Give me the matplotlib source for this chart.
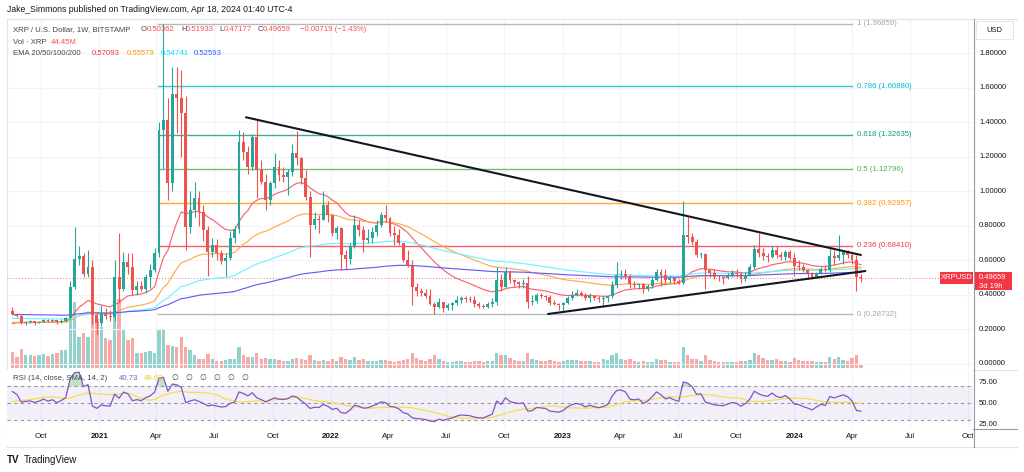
import numpy as np
import pandas as pd
import matplotlib
matplotlib.use("Agg")
import matplotlib.pyplot as plt
import matplotlib.dates as mdates
from matplotlib.patches import Rectangle
from matplotlib.lines import Line2D
from matplotlib.transforms import blended_transform_factory

plt.rcParams['font.family'] = ['Liberation Sans', 'DejaVu Sans']

W, H = 1024, 472

# XRP / U.S. Dollar, 1W, BITSTAMP -- first visible candle is the week of 2020-08-17
first_week = "2020-08-17"

# weekly closes before the visible range (2019-01-07 .. 2020-08-10), only used
# to warm up the EMA / RSI indicators the way the chart's full history does
warmup_closes = [
    0.32, 0.32, 0.31, 0.30, 0.30, 0.30, 0.32, 0.31, 0.31, 0.31, 0.31, 0.31, 0.36,
    0.33, 0.32, 0.30, 0.30, 0.32, 0.42, 0.40, 0.42, 0.40, 0.43, 0.45, 0.40, 0.36,
    0.33, 0.32, 0.31, 0.32, 0.30, 0.27, 0.26, 0.26, 0.26, 0.27, 0.29, 0.24, 0.25,
    0.28, 0.29, 0.29, 0.30, 0.28, 0.27, 0.25, 0.22, 0.22, 0.22, 0.19, 0.19, 0.19,
    0.21, 0.24, 0.22, 0.24, 0.27, 0.30, 0.27, 0.23, 0.23, 0.15, 0.15, 0.17, 0.17,
    0.18, 0.19, 0.19, 0.22, 0.21, 0.20, 0.20, 0.20, 0.20, 0.19, 0.18, 0.18, 0.18,
    0.20, 0.20, 0.22, 0.30, 0.29, 0.307,
]

opens = [
    0.307, 0.288, 0.276, 0.238, 0.243, 0.245, 0.238, 0.244,
    0.254, 0.246, 0.252, 0.240, 0.250, 0.262, 0.446, 0.605,
    0.625, 0.518, 0.560, 0.280, 0.235, 0.290, 0.275, 0.270,
    0.500, 0.430, 0.590, 0.560, 0.425, 0.450, 0.430, 0.500,
    0.540, 0.640, 1.354, 1.410, 1.045, 1.562, 1.538, 1.451,
    0.794, 0.890, 0.960, 0.880, 0.776, 0.650, 0.690, 0.640,
    0.595, 0.612, 0.730, 0.780, 1.286, 1.228, 1.142, 1.315,
    1.122, 1.054, 0.948, 1.045, 1.138, 1.093, 1.080, 1.110,
    1.219, 1.190, 1.074, 0.968, 0.805, 0.840, 0.835, 0.920,
    0.860, 0.755, 0.784, 0.630, 0.605, 0.681, 0.804, 0.775,
    0.717, 0.726, 0.765, 0.804, 0.862, 0.842, 0.755, 0.745,
    0.697, 0.600, 0.566, 0.446, 0.423, 0.410, 0.390, 0.344,
    0.327, 0.356, 0.322, 0.338, 0.350, 0.370, 0.382, 0.376,
    0.368, 0.345, 0.332, 0.330, 0.345, 0.358, 0.485, 0.446,
    0.533, 0.485, 0.472, 0.462, 0.470, 0.359, 0.365, 0.398,
    0.392, 0.385, 0.352, 0.345, 0.338, 0.352, 0.382, 0.400,
    0.410, 0.400, 0.380, 0.392, 0.380, 0.372, 0.380, 0.392,
    0.456, 0.514, 0.520, 0.508, 0.460, 0.455, 0.462, 0.430,
    0.448, 0.485, 0.533, 0.514, 0.485, 0.495, 0.480, 0.470,
    0.746, 0.735, 0.705, 0.630, 0.636, 0.540, 0.525, 0.505,
    0.500, 0.494, 0.510, 0.527, 0.520, 0.490, 0.514, 0.560,
    0.665, 0.640, 0.625, 0.618, 0.660, 0.630, 0.620, 0.645,
    0.615, 0.565, 0.560, 0.540, 0.525, 0.505, 0.528, 0.550,
    0.540, 0.625, 0.612, 0.630, 0.645, 0.632, 0.600, 0.50362,
]
highs = [
    0.330, 0.295, 0.285, 0.250, 0.252, 0.248, 0.248, 0.258,
    0.260, 0.260, 0.256, 0.258, 0.268, 0.480, 0.790, 0.680,
    0.640, 0.660, 0.600, 0.300, 0.340, 0.320, 0.310, 0.600,
    0.760, 0.650, 0.640, 0.640, 0.480, 0.480, 0.520, 0.580,
    0.670, 1.400, 1.96859, 1.540, 1.720, 1.720, 1.700, 1.550,
    1.000, 1.050, 1.000, 0.920, 0.800, 0.730, 0.720, 0.660,
    0.640, 0.770, 0.800, 1.354, 1.340, 1.260, 1.330, 1.410,
    1.180, 1.100, 1.060, 1.220, 1.180, 1.140, 1.130, 1.270,
    1.350, 1.200, 1.120, 1.000, 0.880, 0.860, 1.000, 0.940,
    0.870, 0.800, 0.790, 0.660, 0.700, 0.860, 0.830, 0.800,
    0.780, 0.790, 0.830, 0.880, 0.920, 0.850, 0.800, 0.780,
    0.700, 0.660, 0.600, 0.470, 0.440, 0.430, 0.430, 0.360,
    0.380, 0.360, 0.350, 0.360, 0.390, 0.395, 0.390, 0.390,
    0.390, 0.355, 0.345, 0.360, 0.380, 0.560, 0.520, 0.560,
    0.540, 0.490, 0.480, 0.490, 0.510, 0.400, 0.410, 0.410,
    0.400, 0.400, 0.370, 0.350, 0.360, 0.390, 0.420, 0.430,
    0.420, 0.410, 0.410, 0.400, 0.390, 0.390, 0.400, 0.480,
    0.590, 0.540, 0.550, 0.520, 0.480, 0.470, 0.470, 0.460,
    0.500, 0.550, 0.550, 0.550, 0.510, 0.500, 0.490, 0.940,
    0.850, 0.760, 0.720, 0.650, 0.640, 0.550, 0.550, 0.515,
    0.510, 0.525, 0.540, 0.550, 0.530, 0.530, 0.580, 0.690,
    0.755, 0.670, 0.640, 0.680, 0.680, 0.650, 0.660, 0.660,
    0.640, 0.600, 0.580, 0.550, 0.530, 0.530, 0.560, 0.570,
    0.670, 0.660, 0.746, 0.660, 0.660, 0.640, 0.630, 0.51933,
]
lows = [
    0.282, 0.270, 0.228, 0.226, 0.238, 0.226, 0.234, 0.240,
    0.242, 0.240, 0.232, 0.234, 0.244, 0.258, 0.430, 0.570,
    0.500, 0.500, 0.230, 0.170, 0.220, 0.260, 0.250, 0.250,
    0.360, 0.420, 0.520, 0.400, 0.400, 0.420, 0.410, 0.440,
    0.530, 0.620, 1.130, 0.950, 1.000, 1.335, 1.200, 0.660,
    0.760, 0.850, 0.800, 0.710, 0.510, 0.620, 0.600, 0.580,
    0.510, 0.600, 0.700, 0.760, 1.180, 1.100, 1.120, 0.958,
    1.040, 0.890, 0.920, 1.020, 1.060, 1.050, 0.980, 1.090,
    1.150, 1.040, 0.950, 0.620, 0.780, 0.760, 0.830, 0.820,
    0.740, 0.720, 0.540, 0.550, 0.580, 0.670, 0.740, 0.650,
    0.700, 0.700, 0.740, 0.790, 0.820, 0.740, 0.690, 0.690,
    0.590, 0.560, 0.340, 0.390, 0.390, 0.380, 0.340, 0.28732,
    0.320, 0.300, 0.310, 0.310, 0.340, 0.350, 0.360, 0.355,
    0.330, 0.320, 0.320, 0.320, 0.330, 0.340, 0.420, 0.440,
    0.470, 0.450, 0.440, 0.440, 0.320, 0.340, 0.350, 0.380,
    0.370, 0.340, 0.340, 0.310, 0.300, 0.345, 0.370, 0.390,
    0.390, 0.370, 0.360, 0.370, 0.360, 0.330, 0.360, 0.380,
    0.440, 0.490, 0.490, 0.440, 0.440, 0.430, 0.410, 0.420,
    0.440, 0.480, 0.450, 0.470, 0.470, 0.460, 0.460, 0.460,
    0.700, 0.690, 0.620, 0.610, 0.430, 0.500, 0.490, 0.480,
    0.460, 0.490, 0.500, 0.500, 0.470, 0.480, 0.510, 0.550,
    0.620, 0.600, 0.590, 0.610, 0.610, 0.600, 0.600, 0.600,
    0.510, 0.540, 0.530, 0.490, 0.490, 0.495, 0.520, 0.530,
    0.530, 0.570, 0.600, 0.580, 0.610, 0.580, 0.420, 0.47177,
]
closes = [
    0.288, 0.276, 0.238, 0.243, 0.245, 0.238, 0.244, 0.254,
    0.246, 0.252, 0.240, 0.250, 0.262, 0.446, 0.605, 0.625,
    0.518, 0.560, 0.280, 0.235, 0.290, 0.275, 0.270, 0.500,
    0.430, 0.590, 0.560, 0.425, 0.450, 0.430, 0.500, 0.540,
    0.640, 1.354, 1.410, 1.045, 1.562, 1.538, 1.451, 0.794,
    0.890, 0.960, 0.880, 0.776, 0.650, 0.690, 0.640, 0.595,
    0.612, 0.730, 0.780, 1.286, 1.228, 1.142, 1.315, 1.122,
    1.054, 0.948, 1.045, 1.138, 1.093, 1.080, 1.110, 1.219,
    1.190, 1.074, 0.968, 0.805, 0.840, 0.835, 0.920, 0.860,
    0.755, 0.784, 0.630, 0.605, 0.681, 0.804, 0.775, 0.717,
    0.726, 0.765, 0.804, 0.862, 0.842, 0.755, 0.745, 0.697,
    0.600, 0.566, 0.446, 0.423, 0.410, 0.390, 0.344, 0.327,
    0.356, 0.322, 0.338, 0.350, 0.370, 0.382, 0.376, 0.368,
    0.345, 0.332, 0.330, 0.345, 0.358, 0.485, 0.446, 0.533,
    0.485, 0.472, 0.462, 0.470, 0.359, 0.365, 0.398, 0.392,
    0.385, 0.352, 0.345, 0.338, 0.352, 0.382, 0.400, 0.410,
    0.400, 0.380, 0.392, 0.380, 0.372, 0.380, 0.392, 0.456,
    0.514, 0.520, 0.508, 0.460, 0.455, 0.462, 0.430, 0.448,
    0.485, 0.533, 0.514, 0.485, 0.495, 0.480, 0.470, 0.746,
    0.735, 0.705, 0.630, 0.636, 0.540, 0.525, 0.505, 0.500,
    0.494, 0.510, 0.527, 0.520, 0.490, 0.514, 0.560, 0.665,
    0.640, 0.625, 0.618, 0.660, 0.630, 0.620, 0.645, 0.615,
    0.565, 0.560, 0.540, 0.525, 0.505, 0.528, 0.550, 0.540,
    0.625, 0.612, 0.630, 0.645, 0.632, 0.600, 0.50378, 0.49659,
]
# weekly volume, millions of XRP
vol_m = [
    225, 150, 270, 180, 180, 165, 180, 195,
    165, 195, 210, 255, 255, 720, 975, 450,
    510, 450, 930, 720, 600, 435, 405, 900,
    1020, 570, 405, 435, 210, 210, 225, 240,
    210, 570, 570, 330, 315, 300, 450, 300,
    255, 180, 120, 120, 195, 120, 90, 90,
    105, 120, 120, 300, 180, 150, 150, 210,
    120, 135, 120, 120, 105, 90, 90, 120,
    135, 120, 105, 180, 105, 90, 105, 90,
    120, 90, 150, 120, 105, 150, 105, 120,
    90, 90, 90, 105, 105, 90, 75, 90,
    105, 120, 210, 135, 105, 90, 120, 180,
    120, 90, 75, 75, 90, 90, 75, 75,
    90, 90, 75, 90, 90, 210, 180, 180,
    135, 105, 90, 90, 210, 120, 105, 90,
    90, 105, 90, 75, 90, 105, 105, 105,
    90, 90, 90, 75, 75, 120, 105, 180,
    210, 120, 105, 120, 90, 75, 90, 75,
    75, 120, 105, 105, 75, 75, 75, 300,
    180, 120, 120, 90, 180, 105, 90, 75,
    75, 75, 75, 75, 90, 90, 105, 210,
    180, 135, 105, 105, 120, 90, 90, 75,
    135, 105, 90, 90, 90, 75, 75, 75,
    150, 120, 150, 105, 90, 135, 180, 44.45,
]

ema_periods = [20, 50, 100, 200]
ema_line_colors = ['#f6646f', '#ffaa4d', '#6ff4ff', '#6c5df2']
ema_legend_values = ['0.57093', '0.55579', '0.54741', '0.52593']
ema_legend_colors = ['#f23645', '#ff9800', '#00e5ff', '#2962ff']

fib_ratios = ['0', '0.236', '0.382', '0.5', '0.618', '0.786', '1']
fib_prices = [0.28732, 0.68410, 0.92957, 1.12796, 1.32635, 1.60880, 1.96859]
fib_colors = ['#a3a6af', '#f23645', '#ff9800', '#4caf50', '#089981', '#00bcd4', '#a3a6af']
fib_span = ['2021-04-04', '2024-04-01']

upper_trend = (['2021-08-20', '2024-04-15'], [1.4276, 0.630])
lower_trend = (['2022-12-09', '2024-04-22'], [0.288, 0.537])

rsi_legend_values = ['40.73', '49.62']
price_ticks = [0.0, 0.2, 0.4, 0.6, 0.8, 1.0, 1.2, 1.4, 1.6, 1.8]
rsi_ticks = [75, 50, 25]

UP, DOWN = '#26a69a', '#ef5350'
TXT = '#131722'

# ---------- derived series ----------
dates = pd.date_range(first_week, periods=len(closes), freq='7D')
x = mdates.date2num(dates)
o, h, l, c = map(np.array, (opens, highs, lows, closes))
up = c >= o
n_vis = len(closes)

full_close = pd.Series(warmup_closes + closes)
emas = [full_close.ewm(span=n, adjust=False).mean().iloc[-n_vis:].values for n in ema_periods]

delta = full_close.diff()
gain = delta.clip(lower=0)
loss = -delta.clip(upper=0)
rs = gain.ewm(alpha=1 / 14, adjust=False).mean() / loss.ewm(alpha=1 / 14, adjust=False).mean()
rsi_full = 100 - 100 / (1 + rs)
rsi = rsi_full.iloc[-n_vis:].values
rsi_sma = rsi_full.rolling(14).mean().iloc[-n_vis:].values

# ---------- layout (pixel positions of the TradingView panes) ----------
def fx(px):
    return px / W

def fy(px):
    return 1 - px / H

anchor = mdates.date2num(pd.Timestamp('2020-10-01'))
px_per_day = 0.6346
xlim = (anchor + (7 - 41) / px_per_day, anchor + (973 - 41) / px_per_day)

fig = plt.figure(figsize=(W / 100, H / 100), dpi=100)
fig.patch.set_facecolor('white')

rect_main = [fx(7), fy(369), fx(966), 350 / H]
axv = fig.add_axes(rect_main, zorder=1)
ax = fig.add_axes(rect_main, zorder=2)
rax = fig.add_axes([fx(7), fy(428), fx(966), 58 / H], zorder=2)
tax = fig.add_axes([fx(7), fy(446), fx(966), 18 / H], zorder=2)

for a in (axv, ax, rax, tax):
    a.set_xlim(*xlim)
    a.set_xticks([])
    a.set_yticks([])
    for s in a.spines.values():
        s.set_visible(False)
ax.patch.set_alpha(0)
ax.set_ylim(-0.0307, 1.997)
rax.set_ylim(20.24, 89.29)
tax.set_ylim(0, 1)

quarters = pd.date_range('2020-10-01', '2024-10-01', freq='QS')
qx = mdates.date2num(quarters)

# grid
for q in qx:
    axv.axvline(q, color='#f0f3fa', lw=0.8, zorder=0)
    rax.axvline(q, color='#f0f3fa', lw=0.8, zorder=0)
for p in price_ticks:
    ax.axhline(p, color='#f0f3fa', lw=0.8, zorder=0)

# volume
vmax = max(vol_m)
axv.set_ylim(-vmax * 1.5 / 69, vmax * 350 / 69)
vcol = np.where(up, '#92d2cc', '#f7a9a7')
axv.bar(x, vol_m, width=5.3, color=vcol, linewidth=0, zorder=2)

# fib retracement
f0, f1 = mdates.date2num(pd.to_datetime(fib_span))
for r, p, col in zip(fib_ratios, fib_prices, fib_colors):
    ax.plot([f0, f1], [p, p], color=col, lw=1.0, alpha=0.8, zorder=1)
    ax.text(f1 + 8, p, f"{r} ({p:.5f})", color=col, fontsize=5.6, va='center', ha='left', zorder=5)

# current price dotted line
ax.axhline(closes[-1], color='#f23645', lw=0.7, ls=(0, (1, 2)), alpha=0.7, zorder=1)

# EMAs
for e, col in zip(emas, ema_line_colors):
    ax.plot(x, e, color=col, lw=0.85, zorder=2)

# candles
col = np.where(up, UP, DOWN)
ax.vlines(x, l, h, colors=col, lw=0.8, zorder=3)
body = np.maximum(np.abs(c - o), 0.003)
ax.bar(x, body, bottom=np.minimum(o, c), width=4.6, color=col, linewidth=0, zorder=4)

# trendlines
for dts, ps in (upper_trend, lower_trend):
    ax.plot(mdates.date2num(pd.to_datetime(dts)), ps, color=TXT, lw=1.5, zorder=6,
            solid_capstyle='round')

# RSI pane
rax.axhspan(30, 70, color='#7e57c2', alpha=0.09, lw=0, zorder=0)
for lvl in (70, 50, 30):
    rax.axhline(lvl, color='#9598a1', lw=0.8, ls=(0, (3, 3)), zorder=1)
rax.fill_between(x, 70, rsi, where=rsi > 70, color='#4caf50', alpha=0.35, lw=0, interpolate=True, zorder=2)
rax.fill_between(x, 30, rsi, where=rsi < 30, color='#f23645', alpha=0.35, lw=0, interpolate=True, zorder=2)
rax.plot(x, rsi_sma, color='#f5e04a', lw=0.9, zorder=3)
rax.plot(x, rsi, color='#7e57c2', lw=0.9, zorder=4)

# time axis
for q, d in zip(qx, quarters):
    if d.month == 1:
        tax.text(q, 0.5, str(d.year), fontsize=5.8, fontweight='bold', color=TXT,
                 ha='center', va='center', clip_on=True)
    else:
        tax.text(q, 0.5, d.strftime('%b'), fontsize=5.8, color=TXT,
                 ha='center', va='center', clip_on=True)

# price scale
tr_main = blended_transform_factory(fig.transFigure, ax.transData)
for p in price_ticks:
    fig.text(fx(979), p, f"{p:.5f}", transform=tr_main, fontsize=5.5, color=TXT, va='center')
tr_rsi = blended_transform_factory(fig.transFigure, rax.transData)
for t in rsi_ticks:
    fig.text(fx(979), t, f"{t:.2f}", transform=tr_rsi, fontsize=5.5, color=TXT, va='center')

fig.add_artist(Rectangle((fx(976), fy(39)), fx(37), 18 / H, transform=fig.transFigure,
                         facecolor='white', edgecolor='#e0e3eb', lw=0.6))
fig.text(fx(994), fy(30), 'USD', fontsize=5.5, color=TXT, ha='center', va='center')

# last price labels
py = ax.transData.transform((0, closes[-1]))[1] / fig.bbox.height
fig.add_artist(Rectangle((fx(975), py - 12.5 / H), fx(37), 18 / H, transform=fig.transFigure,
                         facecolor='#f23645', edgecolor='none', zorder=10))
fig.text(fx(979), py, f"{closes[-1]:.5f}", fontsize=5.5, color='white', va='center', zorder=11)
fig.text(fx(979), py - 9 / H, '3d 19h', fontsize=5.5, color='white', va='center', zorder=11)
fig.add_artist(Rectangle((fx(940), py - 6 / H), fx(33), 12 / H, transform=fig.transFigure,
                         facecolor='#f23645', edgecolor='none', zorder=10))
fig.text(fx(956.5), py, 'XRPUSD', fontsize=5.5, color='white', va='center', ha='center', zorder=11)

# frame lines
def hline(ypx, x0, x1, color, lw=0.8):
    fig.add_artist(Line2D([fx(x0), fx(x1)], [fy(ypx), fy(ypx)], transform=fig.transFigure, color=color, lw=lw))

hline(18.5, 7, 1017, '#e0e3eb')
hline(369.5, 7, 1017, '#e0e3eb')
hline(428.5, 7, 1017, '#9598a1')
hline(446.5, 7, 1017, '#e0e3eb')
fig.add_artist(Line2D([fx(973.5), fx(973.5)], [fy(18.5), fy(446.5)], transform=fig.transFigure,
                      color='#9598a1', lw=0.8))
fig.add_artist(Line2D([fx(7), fx(7)], [fy(18.5), fy(446.5)], transform=fig.transFigure,
                      color='#e0e3eb', lw=0.8))

# header / legends
fig.text(fx(7), fy(10), 'Jake_Simmons published on TradingView.com, Apr 18, 2024 01:40 UTC-4',
         fontsize=6.2, color=TXT, va='center')

def legend_row(ypx, parts):
    for xpx, s, colr in parts:
        fig.text(fx(xpx), fy(ypx), s, fontsize=5.6, color=colr, va='center', zorder=12)

chg = closes[-1] - closes[-2]
legend_row(29.5, [
    (13, 'XRP / U.S. Dollar, 1W, BITSTAMP', '#434651'),
    (141, 'O', '#434651'), (147, f"{opens[-1]:.5f}", DOWN),
    (181, 'H', '#434651'), (186, f"{highs[-1]:.5f}", DOWN),
    (219, 'L', '#434651'), (224, f"{lows[-1]:.5f}", DOWN),
    (258, 'C', '#434651'), (263, f"{closes[-1]:.5f}", DOWN),
    (300, f"\u2212{abs(chg):.5f} (\u2212{abs(chg) / closes[-2] * 100:.2f}%)", DOWN),
])
legend_row(42, [(13, 'Vol \u00b7 XRP', '#434651'), (51, f"{vol_m[-1]:.2f}M", DOWN)])
legend_row(53.5, [(13, 'EMA 20/50/100/200', '#434651')] +
           [(xp, v, cc) for xp, v, cc in zip([92, 127, 161, 194], ema_legend_values, ema_legend_colors)])
legend_row(379, [(13, 'RSI (14, close, SMA, 14, 2)', '#434651'),
                 (119, rsi_legend_values[0], '#7e57c2'), (144, rsi_legend_values[1], '#e8cf2a')] +
           [(xp, '\u2205', '#434651') for xp in (171, 185, 199, 213, 227, 241)])

# TradingView logo
fig.text(fx(7), fy(460), 'TV', fontsize=7, fontweight='bold', color=TXT, va='center')
fig.text(fx(24), fy(460), 'TradingView', fontsize=7, color=TXT, va='center')

fig.savefig('out.png', dpi=100, facecolor='white')
